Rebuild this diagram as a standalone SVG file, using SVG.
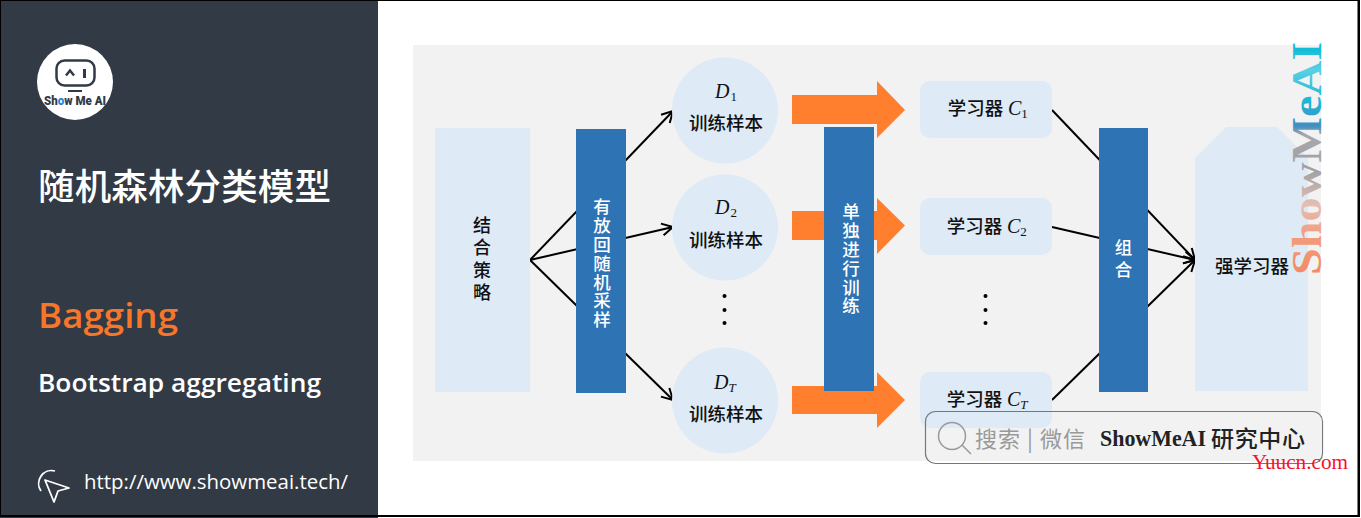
<svg xmlns="http://www.w3.org/2000/svg" width="1361" height="518" viewBox="0 0 1361 518">
<style>
.cjk{font-family:"Noto Sans CJK SC","Noto Sans",sans-serif}
.lb{font-size:18.5px;fill:#111;text-anchor:middle;font-weight:500;font-family:"Noto Sans CJK SC",sans-serif}
.wv{font-size:17.500px;letter-spacing:1.300px;fill:#fff;font-weight:500;writing-mode:vertical-rl;font-family:"Noto Sans CJK SC",sans-serif}
.bv{font-size:18px;letter-spacing:4.500px;fill:#111;font-weight:500;writing-mode:vertical-rl;font-family:"Noto Sans CJK SC",sans-serif}
.m{font-family:"Liberation Serif",serif;font-style:italic;fill:#111;font-size:20px}
.s{font-size:13px;font-style:normal}
.si{font-size:13px}
.light{fill:#deeaf6}
.blue{fill:#2e74b5}
.orange{fill:#ff7f2e}
.ln{stroke:#000;stroke-width:2;fill:none}
.dot{fill:#000}
</style>
<defs>
<marker id="open" markerUnits="userSpaceOnUse" markerWidth="18" markerHeight="18" refX="14" refY="9" orient="auto" overflow="visible"><path d="M3,3 L14,9 L3,15" fill="none" stroke="#000" stroke-width="2"/></marker>
<linearGradient id="wm" gradientUnits="userSpaceOnUse" x1="0" y1="0" x2="233" y2="0">
<stop offset="0" stop-color="#f58a63"/><stop offset="0.17" stop-color="#f29c7e"/><stop offset="0.3" stop-color="#e4bfb2"/><stop offset="0.45" stop-color="#a0a0a4"/><stop offset="0.6" stop-color="#a8a8ac"/><stop offset="0.64" stop-color="#3f8fc4"/><stop offset="0.75" stop-color="#1bb8d6"/><stop offset="0.88" stop-color="#5ad0e2"/><stop offset="0.97" stop-color="#10bcd6"/>
</linearGradient>
</defs>
<rect width="1361" height="518" fill="#fff"/>
<rect id="canvas" x="413" y="45" width="908" height="416" fill="#f2f2f2"/>

<g id="connectors">
<line class="ln" x1="530" y1="260" x2="673" y2="111" marker-end="url(#open)"/>
<line class="ln" x1="530" y1="260" x2="673" y2="227" marker-end="url(#open)"/>
<line class="ln" x1="530" y1="260" x2="673" y2="400" marker-end="url(#open)"/>
<line class="ln" x1="1052" y1="110" x2="1195" y2="260" marker-end="url(#open)"/>
<line class="ln" x1="1052" y1="227" x2="1195" y2="260" marker-end="url(#open)"/>
<line class="ln" x1="1052" y1="400" x2="1195" y2="260" marker-end="url(#open)"/>
<polygon class="orange" points="792,95 877,95 877,81 905,110 877,138 877,124 792,124"/>
<polygon class="orange" points="792,211 877,211 877,198 905,225.500 877,254 877,240 792,240"/>
<polygon class="orange" points="792,386 877,386 877,372 905,400 877,428 877,414 792,414"/>
</g>

<g id="panel">
<rect x="0" y="0" width="378" height="518" fill="#323a45"/>
</g>
<g id="logo">
<circle cx="75" cy="82" r="38" fill="#fff"/>
<rect x="56.500" y="60.500" width="38" height="25" rx="8" fill="none" stroke="#323a45" stroke-width="2.500"/>
<path d="M66,75.500 L70,70.500 L74,75.500" fill="none" stroke="#323a45" stroke-width="2.500"/>
<line x1="84.500" y1="69" x2="84.500" y2="78" stroke="#323a45" stroke-width="3"/>
<line x1="68" y1="91" x2="82" y2="91" stroke="#323a45" stroke-width="2"/>
<text x="44" y="105" font-family="Roboto,sans-serif" font-weight="900" font-size="12" fill="#323a45" textLength="62" lengthAdjust="spacingAndGlyphs">Sh<tspan fill="#2e86d0">o</tspan>w Me AI</text>
</g>
<g id="title">
<text x="38" y="200" class="cjk" font-size="36.500" font-weight="500" fill="#fff" textLength="293">随机森林分类模型</text>
<text x="38" y="328" font-family="'Open Sans',sans-serif" font-size="35" font-weight="600" fill="#f6762a" textLength="140" lengthAdjust="spacingAndGlyphs">Bagging</text>
<text x="38" y="392" font-family="'Open Sans',sans-serif" font-size="25" font-weight="600" fill="#fff" textLength="283" lengthAdjust="spacingAndGlyphs">Bootstrap aggregating</text>
</g>
<g id="link">
<path d="M41,491 A13,13 0 0 1 55,471" fill="none" stroke="#fff" stroke-width="1.800"/>
<path d="M45,480 L69,488 L58,491 L54,502 Z" fill="none" stroke="#fff" stroke-width="1.800" stroke-linejoin="round"/>
<text x="84" y="489" font-family="'Open Sans',sans-serif" font-size="20" font-weight="500" fill="#fff" textLength="264" lengthAdjust="spacingAndGlyphs">http://www.showmeai.tech/</text>
</g>

<g id="n-strategy">
<rect class="light" x="435" y="128" width="95" height="264"/>
<text class="bv" x="482" y="216">结合策略</text>
</g>
<g id="n-sampling">
<rect class="blue" x="576" y="129" width="50" height="264"/>
<text class="wv" x="602" y="198">有放回随机采样</text>
</g>
<g id="n-d1">
<circle class="light" cx="725" cy="110.500" r="53"/>
<text class="m" x="715" y="98">D<tspan class="s" dx="1" dy="3">1</tspan></text>
<text class="lb" x="726" y="130">训练样本</text>
</g>
<g id="n-d2">
<circle class="light" cx="725" cy="227.500" r="53"/>
<text class="m" x="715" y="214">D<tspan class="s" dx="1" dy="3">2</tspan></text>
<text class="lb" x="726" y="247">训练样本</text>
</g>
<g id="n-dots1">
<circle class="dot" cx="724.500" cy="296" r="2"/><circle class="dot" cx="724.500" cy="310" r="2"/><circle class="dot" cx="724.500" cy="323" r="2"/>
</g>
<g id="n-dt">
<circle class="light" cx="725" cy="400.500" r="53"/>
<text class="m" x="714" y="389">D<tspan class="si" dx="0" dy="3">T</tspan></text>
<text class="lb" x="726" y="421">训练样本</text>
</g>
<g id="n-train">
<rect class="blue" x="824" y="127" width="50" height="264"/>
<text class="wv" x="851" y="203">单独进行训练</text>
</g>
<g id="n-c1">
<rect class="light" x="920" y="81" width="132" height="57" rx="10"/>
<text class="lb" x="975.500" y="115">学习器</text>
<text class="m" x="1008" y="115">C<tspan class="s" dy="3">1</tspan></text>
</g>
<g id="n-c2">
<rect class="light" x="920" y="198" width="132" height="57" rx="10"/>
<text class="lb" x="974.500" y="233">学习器</text>
<text class="m" x="1007" y="233">C<tspan class="s" dy="3">2</tspan></text>
</g>
<g id="n-dots2">
<circle class="dot" cx="985.500" cy="296" r="2"/><circle class="dot" cx="985.500" cy="310" r="2"/><circle class="dot" cx="985.500" cy="323" r="2"/>
</g>
<g id="n-ct">
<rect class="light" x="920" y="372" width="132" height="56" rx="10"/>
<text class="lb" x="974.500" y="406">学习器</text>
<text class="m" x="1007" y="406">C<tspan class="si" dy="3">T</tspan></text>
</g>
<g id="n-combine">
<rect class="blue" x="1099" y="128" width="49" height="264"/>
<text class="wv" x="1123.500" y="239" style="letter-spacing:4px">组合</text>
</g>
<g id="n-strong">
<polygon class="light" points="1195,158 1226,127 1277,127 1308,158 1308,391 1195,391"/>
<text class="lb" x="1252" y="273">强学习器</text>
</g>

<g id="watermark">
<text transform="translate(1321,275) rotate(-90)" font-family="'Liberation Serif',serif" font-weight="700" font-size="42" fill="url(#wm)" textLength="233" lengthAdjust="spacingAndGlyphs">ShowMeAI</text>
</g>
<g id="searchbox">
<rect x="925.500" y="411.500" width="397" height="52" rx="10" fill="none" stroke="#777" stroke-width="1.200"/>
<circle cx="952" cy="436" r="13.500" fill="none" stroke="#999" stroke-width="1.500"/>
<line x1="962" y1="445" x2="971" y2="454" stroke="#999" stroke-width="1.500"/>
<text x="975" y="447" class="cjk" font-size="22" fill="#999" textLength="110">搜索 | 微信</text>
<text x="1100" y="446" font-family="'Liberation Serif',serif" font-weight="700" font-size="24" fill="#222" textLength="106" lengthAdjust="spacingAndGlyphs">ShowMeAI</text>
<text x="1211" y="447" class="cjk" font-size="23" font-weight="500" fill="#222" textLength="94">研究中心</text>
</g>
<text id="credit" x="1252" y="469" font-family="'Liberation Serif',serif" font-size="20" fill="#f5112e" textLength="96" lengthAdjust="spacingAndGlyphs">Yuucn.com</text>

<g id="frame" fill="#000">
<rect x="0" y="0" width="1360" height="1"/>
<rect x="0" y="0" width="1" height="517"/>
<rect x="1357.500" y="0" width="2.500" height="517"/>
<rect x="0" y="515" width="1360" height="2"/>
</g>
</svg>
